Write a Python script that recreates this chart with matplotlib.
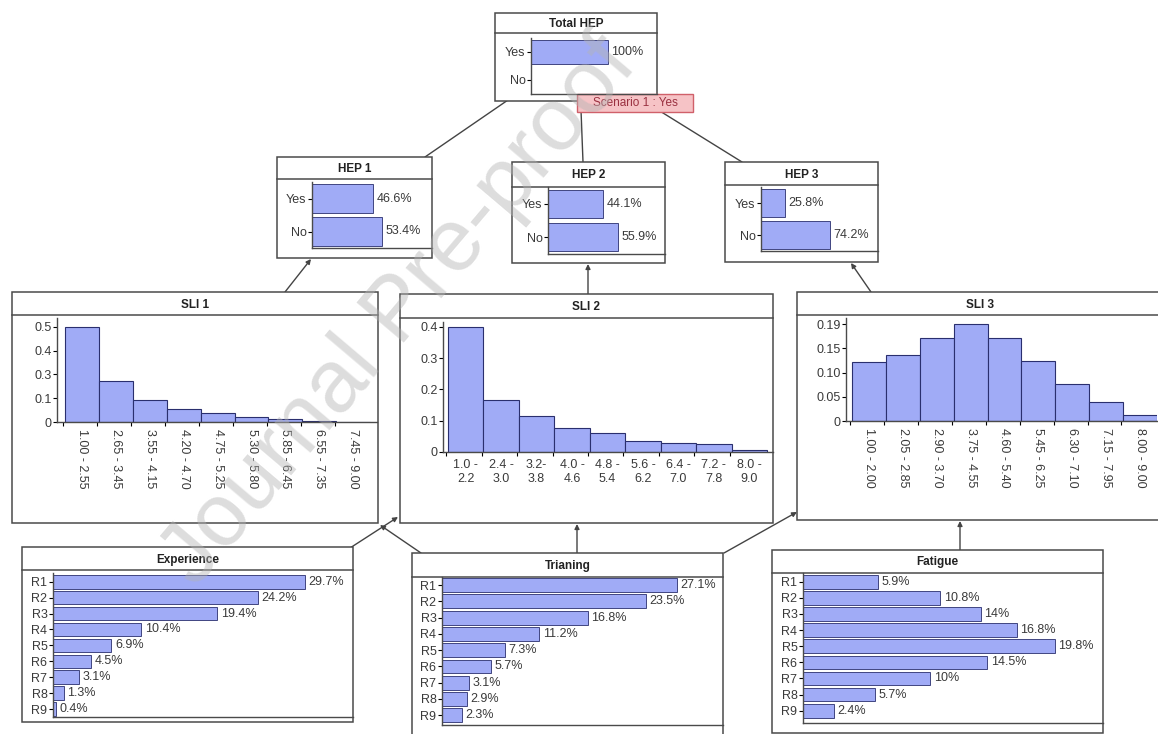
import numpy as np
import matplotlib
matplotlib.use("Agg")
import matplotlib.pyplot as plt
from matplotlib.patches import Rectangle

plt.rcParams['font.family'] = ['Liberation Sans', 'DejaVu Sans']

# ---- values ----
binary_states = ["Yes", "No"]
total_hep = [100.0, 0.0]
hep1 = [46.6, 53.4]
hep2 = [44.1, 55.9]
hep3 = [25.8, 74.2]

rank_states = ["R1", "R2", "R3", "R4", "R5", "R6", "R7", "R8", "R9"]
experience = [29.7, 24.2, 19.4, 10.4, 6.9, 4.5, 3.1, 1.3, 0.4]
training = [27.1, 23.5, 16.8, 11.2, 7.3, 5.7, 3.1, 2.9, 2.3]
fatigue = [5.9, 10.8, 14, 16.8, 19.8, 14.5, 10, 5.7, 2.4]

sli1_bins = ["1.00 - 2.55", "2.65 - 3.45", "3.55 - 4.15", "4.20 - 4.70", "4.75 - 5.25",
             "5.30 - 5.80", "5.85 - 6.45", "6.55 - 7.35", "7.45 - 9.00"]
sli1_prob = [0.500, 0.216, 0.113, 0.069, 0.046, 0.025, 0.014, 0.005, 0.002]
sli1_ticks = ["0", "0.1", "0.3", "0.4", "0.5"]

sli2_bins = ["1.0 -\n2.2", "2.4 -\n3.0", "3.2-\n3.8", "4.0 -\n4.6", "4.8 -\n5.4",
             "5.6 -\n6.2", "6.4 -\n7.0", "7.2 -\n7.8", "8.0 -\n9.0"]
sli2_prob = [0.440, 0.181, 0.128, 0.083, 0.067, 0.040, 0.032, 0.028, 0.006]
sli2_ticks = ["0", "0.1", "0.2", "0.3", "0.4"]

sli3_bins = ["1.00 - 2.00", "2.05 - 2.85", "2.90 - 3.70", "3.75 - 4.55", "4.60 - 5.40",
             "5.45 - 6.25", "6.30 - 7.10", "7.15 - 7.95", "8.00 - 9.00"]
sli3_prob = [0.118, 0.132, 0.166, 0.194, 0.166, 0.121, 0.074, 0.039, 0.013]
sli3_ticks = ["0", "0.05", "0.10", "0.15", "0.19"]

# ---- style ----
W, H = 1158, 734
BAR = '#a0abf6'
BAR_EDGE = '#2a2f6e'
EDGE = '#4a4a4a'
TXT = '#3a3a3a'
FS = 9

fig = plt.figure(figsize=(W / 100, H / 100), dpi=100)

# base axes in pixel coordinates for boxes and links
base = fig.add_axes([0, 0, 1, 1])
base.set_xlim(0, W)
base.set_ylim(H, 0)
base.axis('off')


def px_axes(x0, y0, x1, y1):
    ax = fig.add_axes([x0 / W, 1 - y1 / H, (x1 - x0) / W, (y1 - y0) / H])
    ax.set_facecolor('none')
    return ax


def node_box(x0, y0, x1, y1, band, title):
    base.add_patch(Rectangle((x0, y0), x1 - x0, y1 - y0, fc='white', ec=EDGE, lw=1.1, zorder=2))
    base.plot([x0, x1], [band, band], color=EDGE, lw=1.1, zorder=3)
    base.text((x0 + x1) / 2, (y0 + band) / 2 + 1, title, ha='center', va='center',
              fontsize=FS - 0.5, fontweight='bold', color='#222222', zorder=4)


def link(start, end, head=True):
    style = '-|>' if head else '-'
    base.annotate('', xy=end, xytext=start, zorder=1,
                  arrowprops=dict(arrowstyle=style, color='#444444', lw=1.0,
                                  mutation_scale=7, shrinkA=0, shrinkB=0))


def hbar_node(rect, states, values, xmax, ylim, bar_h=0.85):
    ax = px_axes(*rect)
    y = np.arange(len(states))
    ax.barh(y, values, height=bar_h, color=BAR, edgecolor=BAR_EDGE, lw=0.6)
    for yi, v in zip(y, values):
        if v > 0:
            ax.annotate(f"{v:g}%", (v, yi), xytext=(2.5, 0), textcoords='offset points',
                        va='center', ha='left', fontsize=FS, color=TXT,
                        bbox=dict(boxstyle='square,pad=0.05', fc='white', ec='none'))
    ax.set_xlim(0, xmax)
    ax.set_ylim(*ylim)
    ax.set_yticks(y, states)
    ax.set_xticks([])
    for s in ['top', 'right']:
        ax.spines[s].set_visible(False)
    for s in ['left', 'bottom']:
        ax.spines[s].set_color(EDGE)
        ax.spines[s].set_linewidth(1.0)
    ax.tick_params(axis='y', length=3, width=0.8, pad=1, labelsize=FS, labelcolor=TXT)
    return ax


def hist_node(rect, bins, probs, tick_labels, xlim, ytop, rotate):
    ax = px_axes(*rect)
    x = np.arange(len(bins))
    ax.bar(x, probs, width=1.0, color=BAR, edgecolor=BAR_EDGE, lw=0.8)
    ax.set_xlim(*xlim)
    ax.set_ylim(0, ytop)
    ax.set_yticks(np.linspace(0, max(probs), len(tick_labels)), tick_labels)
    ax.set_xticks(x, bins, rotation=-90 if rotate else 0, fontsize=FS, color=TXT)
    ax.set_xticks(x - 0.55, minor=True)
    ax.tick_params(axis='x', which='major', length=0, pad=5)
    ax.tick_params(axis='x', which='minor', length=3, width=0.8)
    ax.tick_params(axis='y', length=3, width=0.8, pad=1, labelsize=FS, labelcolor=TXT)
    for s in ['top', 'right']:
        ax.spines[s].set_visible(False)
    for s in ['left', 'bottom']:
        ax.spines[s].set_color(EDGE)
        ax.spines[s].set_linewidth(1.0)
    return ax


# ---- links (drawn under the boxes) ----
link((508, 100), (425, 157), head=False)
link((581, 110), (583, 162), head=False)
link((655, 108), (742, 162), head=False)
link((285, 292), (311, 259))
link((588, 294), (588, 264))
link((871, 292), (851, 263))
link((350, 548), (398, 517))
link((421, 553), (380, 525))
link((577, 553), (577, 524))
link((724, 553), (797, 512))
link((960, 550), (960, 521))

# ---- top level nodes ----
node_box(495, 13, 657, 101, 33, "Total HEP")
hbar_node((531, 38, 657, 94), binary_states, total_hep, 163.6, (1.5, -0.5))
base.add_patch(Rectangle((577, 94), 116, 18, fc='#f6c3c6', ec='#d0606a', lw=1.0, zorder=5))
base.text(635, 103.5, "Scenario 1 : Yes", ha='center', va='center', fontsize=FS - 0.5,
          color='#9a3040', zorder=6)

node_box(277, 157, 432, 258, 179, "HEP 1")
hbar_node((312, 182, 432, 248), binary_states, hep1, 91.5, (1.5, -0.5))

node_box(512, 162, 665, 263, 187, "HEP 2")
hbar_node((548, 187, 665, 254), binary_states, hep2, 93.4, (1.5, -0.5))

node_box(725, 162, 878, 262, 185, "HEP 3")
hbar_node((761, 187, 878, 251), binary_states, hep3, 125.8, (1.5, -0.5))

# ---- SLI nodes ----
node_box(12, 292, 378, 523, 315, "SLI 1")
hist_node((57, 318, 377, 422), sli1_bins, sli1_prob, sli1_ticks, (-0.735, 8.7), 0.546, True)

node_box(400, 294, 773, 523, 318, "SLI 2")
hist_node((443, 322, 773, 452), sli2_bins, sli2_prob, sli2_ticks, (-0.64, 8.67), 0.4565, False)

node_box(797, 292, 1162, 520, 315, "SLI 3")
hist_node((846, 318, 1157, 421), sli3_bins, sli3_prob, sli3_ticks, (-0.677, 8.5), 0.2067, True)

# ---- PSF nodes ----
node_box(22, 547, 353, 722, 570, "Experience")
hbar_node((53, 573, 353, 717), rank_states, experience, 35.4, (8.5, -0.55))

node_box(412, 553, 723, 745, 577, "Trianing")
hbar_node((442, 577, 723, 725), rank_states, training, 32.4, (8.6, -0.5))

node_box(772, 550, 1103, 733, 573, "Fatigue")
hbar_node((803, 573, 1103, 723), rank_states, fatigue, 23.6, (8.76, -0.54))

# watermark of the source page
fig.text(400 / W, 1 - 312 / H, "Journal Pre-proof", rotation=49.7, ha='center', va='center',
         fontsize=64, color='#b4b4b4', alpha=0.45, zorder=10)

fig.savefig("out.png", dpi=100)
